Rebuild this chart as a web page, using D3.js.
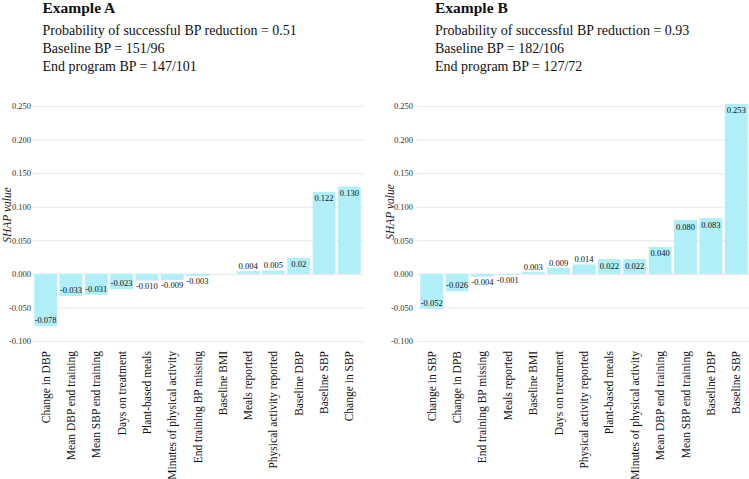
<!DOCTYPE html>
<html>
<head>
<meta charset="utf-8">
<script src="https://cdn.jsdelivr.net/npm/d3@7"></script>
<style>
  html, body { margin: 0; padding: 0; background: #fff; }
  svg { display: block; }
  text { font-family: "Liberation Serif", "Times New Roman", serif; }
</style>
</head>
<body>
<svg id="chart" width="749" height="479"></svg>
<script>
// ---- Data ----
const titleA = "Example A";
const infoA = ["Probability of successful BP reduction = 0.51", "Baseline BP = 151/96", "End program BP = 147/101"];
const categoriesA = ["Change in DBP", "Mean DBP end training", "Mean SBP end training", "Days on treatment", "Plant-based meals", "Minutes of physical activity", "End training BP missing", "Baseline BMI", "Meals reported", "Physical activity reported", "Baseline DBP", "Baseline SBP", "Change in SBP"];
const valuesA = [-0.078, -0.033, -0.031, -0.023, -0.010, -0.009, -0.003, 0, 0.004, 0.005, 0.024, 0.122, 0.130];
const labelsA = ["-0.078", "-0.033", "-0.031", "-0.023", "-0.010", "-0.009", "-0.003", "", "0.004", "0.005", "0.02", "0.122", "0.130"];

const titleB = "Example B";
const infoB = ["Probability of successful BP reduction = 0.93", "Baseline BP = 182/106", "End program BP = 127/72"];
const categoriesB = ["Change in SBP", "Change in DPB", "End training BP missing", "Meals reported", "Baseline BMI", "Days on treatment", "Physical activity reported", "Plant-based meals", "Minutes of physical activity", "Mean DBP end training", "Mean SBP end training", "Baseline DBP", "Baseline SBP"];
const valuesB = [-0.052, -0.026, -0.004, -0.001, 0.003, 0.009, 0.014, 0.022, 0.022, 0.040, 0.080, 0.083, 0.253];
const labelsB = ["-0.052", "-0.026", "-0.004", "-0.001", "0.003", "0.009", "0.014", "0.022", "0.022", "0.040", "0.080", "0.083", "0.253"];

const yTicks = [-0.100, -0.050, 0.000, 0.050, 0.100, 0.150, 0.200, 0.250];
const yTitle = "SHAP value";

// ---- Drawing ----
const svg = d3.select("#chart");
const locale = d3.formatLocale({decimal: ".", thousands: ",", grouping: [3], currency: ["", ""], minus: "-"});
const fmt = locale.format(".3f");
const barColor = "#b0eef8";

function panel(opts) {
  const g = svg.append("g");
  // Titles
  g.append("text").attr("x", opts.textX).attr("y", 13)
    .attr("font-size", 15.5).attr("font-weight", "bold").attr("fill", "#111")
    .text(opts.title);
  opts.info.forEach((t, i) => {
    g.append("text").attr("x", opts.textX).attr("y", 34.5 + i * 18.3)
      .attr("font-size", 14).attr("fill", "#111").text(t);
  });

  const y = d3.scaleLinear().domain([-0.1, 0.25]).range([341, 106]);
  const x = d3.scaleBand().domain(opts.categories)
    .range([opts.x0, opts.x1]).paddingInner(0.1).paddingOuter(0.05);

  // Y axis with grid
  const yAxis = d3.axisLeft(y).tickValues(yTicks).tickFormat(fmt)
    .tickSize(-(opts.gridX1 - opts.gridX0)).tickPadding(opts.tickPad);
  const ya = g.append("g").attr("transform", `translate(${opts.gridX0},0)`).call(yAxis);
  ya.select(".domain").remove();
  ya.selectAll(".tick line").attr("stroke", "#e6e6e6").attr("stroke-width", 1);
  ya.selectAll(".tick text").attr("font-size", 8.5).attr("fill", "#333")
    .attr("font-family", "'Liberation Serif', 'Times New Roman', serif");

  // Y title
  g.append("text")
    .attr("transform", `translate(${opts.yTitleX},${opts.yTitleY}) rotate(-90)`)
    .attr("text-anchor", "middle").attr("dy", "0.35em")
    .attr("font-size", 11.5).attr("font-style", "italic").attr("fill", "#222")
    .text(yTitle);

  const data = opts.categories.map((c, i) => ({c, v: opts.values[i], l: opts.labels[i]}));

  // Bars
  g.selectAll("rect.bar").data(data).join("rect").attr("class", "bar")
    .attr("x", d => x(d.c)).attr("width", x.bandwidth())
    .attr("y", d => Math.min(y(d.v), y(0)))
    .attr("height", d => Math.abs(y(d.v) - y(0)))
    .attr("fill", barColor);

  // Value labels
  g.selectAll("text.val").data(data.filter(d => d.l !== "")).join("text").attr("class", "val")
    .attr("x", d => x(d.c) + x.bandwidth() / 2)
    .attr("y", d => {
      const h = Math.abs(y(d.v) - y(0));
      if (d.v >= 0) return h >= 12 ? y(d.v) + 6.5 : y(d.v) - 5;
      return h >= 12 ? y(d.v) - 6 : y(d.v) + 5.5;
    })
    .attr("dy", "0.35em").attr("text-anchor", "middle")
    .attr("font-size", 8.5).attr("fill", "#111")
    .text(d => d.l);

  // X axis labels
  const xAxis = d3.axisBottom(x).tickSize(0);
  const xa = g.append("g").attr("transform", `translate(0,341)`).call(xAxis);
  xa.select(".domain").remove();
  xa.selectAll(".tick text")
    .attr("x", 0).attr("y", 0).attr("dy", "0.35em")
    .attr("transform", "translate(0,10) rotate(-90)")
    .attr("text-anchor", "end")
    .attr("font-size", 11.5).attr("fill", "#111")
    .attr("font-family", "'Liberation Serif', 'Times New Roman', serif");
}

panel({title: titleA, info: infoA, categories: categoriesA, values: valuesA, labels: labelsA,
  textX: 42.5, x0: 33, x1: 362, gridX0: 33, gridX1: 363, tickPad: 2, yTitleX: 7, yTitleY: 215});
panel({title: titleB, info: infoB, categories: categoriesB, values: valuesB, labels: labelsB,
  textX: 435, x0: 419, x1: 749, gridX0: 417, gridX1: 749, tickPad: 4, yTitleX: 390, yTitleY: 212});
</script>
</body>
</html>
